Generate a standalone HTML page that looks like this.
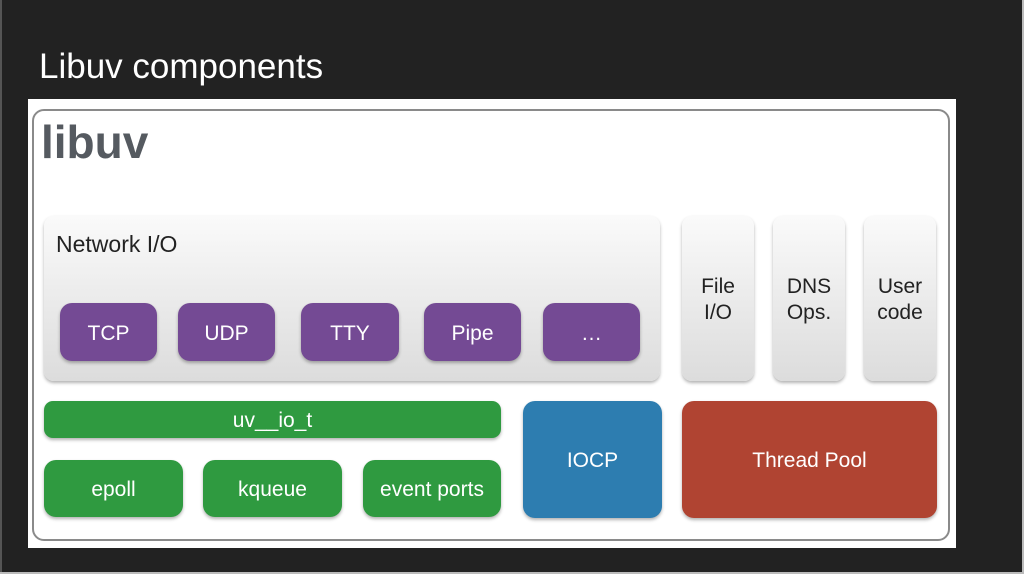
<!DOCTYPE html>
<html><head><meta charset="utf-8"><style>
*{margin:0;padding:0;box-sizing:border-box}
body{width:1024px;height:574px;background:#222;position:relative;overflow:hidden;font-family:"Liberation Sans",sans-serif}
.a{position:absolute}
.t{display:flex;align-items:center;justify-content:center;color:#fff;font-size:21px;text-align:center;line-height:26px;padding-top:3px}
.p{background:#744a94;border-radius:12px;box-shadow:0 2px 3px rgba(0,0,0,.3)}
.g{background:#2f9a40;border-radius:12px;box-shadow:0 2px 3px rgba(0,0,0,.3)}
.gr{background:linear-gradient(#fafafa,#dcdcdc);border-radius:10px;box-shadow:0 2px 3px rgba(0,0,0,.3);color:#222}
</style></head><body>
<div class="a" style="left:0;top:0;width:2px;height:574px;background:#555"></div>
<div class="a" style="left:1022px;top:0;width:2px;height:574px;background:#bbb"></div>
<div class="a" style="left:0;top:572px;width:1024px;height:2px;background:#bbb"></div>
<div class="a" style="left:39px;top:47px;color:#fff;font-size:35px">Libuv components</div>
<div class="a" style="left:28px;top:99px;width:928px;height:449px;background:#fff"></div>
<div class="a" style="left:32px;top:109px;width:918px;height:432px;border:2px solid #8a8a8a;border-radius:12px"></div>
<div class="a" style="left:41px;top:115px;color:#555a60;font-size:46px;font-weight:bold">libuv</div>
<div class="a gr" style="left:44px;top:216px;width:616px;height:165px"></div>
<div class="a" style="left:56px;top:231px;font-size:23px;color:#222">Network I/O</div>
<div class="a t p" style="left:60px;top:303px;width:97px;height:58px">TCP</div>
<div class="a t p" style="left:178px;top:303px;width:97px;height:58px">UDP</div>
<div class="a t p" style="left:301px;top:303px;width:98px;height:58px">TTY</div>
<div class="a t p" style="left:424px;top:303px;width:97px;height:58px">Pipe</div>
<div class="a t p" style="left:543px;top:303px;width:97px;height:58px">…</div>
<div class="a t gr" style="left:682px;top:216px;width:72px;height:165px">File<br>I/O</div>
<div class="a t gr" style="left:773px;top:216px;width:72px;height:165px">DNS<br>Ops.</div>
<div class="a t gr" style="left:864px;top:216px;width:72px;height:165px">User<br>code</div>
<div class="a t g" style="left:44px;top:401px;width:457px;height:37px;border-radius:9px">uv__io_t</div>
<div class="a t g" style="left:44px;top:460px;width:139px;height:57px">epoll</div>
<div class="a t g" style="left:203px;top:460px;width:139px;height:57px">kqueue</div>
<div class="a t g" style="left:363px;top:460px;width:138px;height:57px">event ports</div>
<div class="a t" style="left:523px;top:401px;width:139px;height:117px;background:#2d7db0;border-radius:12px;box-shadow:0 2px 3px rgba(0,0,0,.3)">IOCP</div>
<div class="a t" style="left:682px;top:401px;width:255px;height:117px;background:#b04432;border-radius:12px;box-shadow:0 2px 3px rgba(0,0,0,.3)">Thread Pool</div>
</body></html>
